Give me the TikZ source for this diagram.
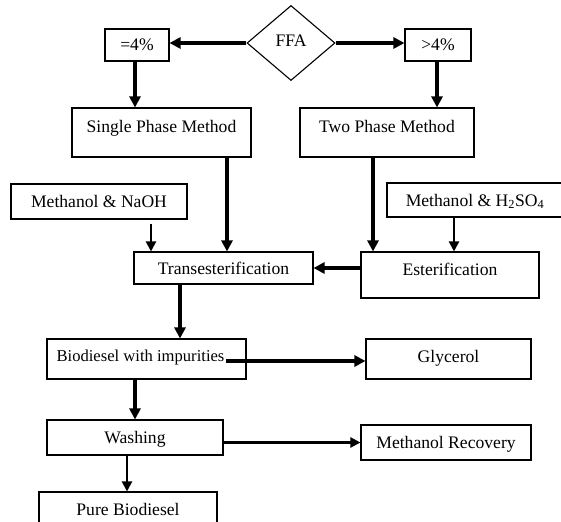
\documentclass[tikz,border=0pt]{standalone}
\usepackage{fontspec}
\setmainfont{Liberation Serif}
\usetikzlibrary{shapes.geometric,arrows.meta}
\begin{document}
\begin{tikzpicture}[x=1pt,y=-1pt,
  font=\fontsize{17.6}{20}\selectfont,
  box/.style={draw, line width=1.1pt, rectangle, inner sep=0pt, text height=12pt, text depth=0pt},
  thickarr/.style={line width=3.2pt, -{Triangle[length=11pt,width=11pt]}},
  thinarr/.style={line width=2.2pt, -{Triangle[length=10pt,width=10pt]}}]
\useasboundingbox (0,0) rectangle (561,521);
\clip (0,0) rectangle (561,521);
% nodes
\node[draw, diamond, line width=1.1pt, inner sep=0pt, minimum width=88pt, minimum height=75pt, text depth=5pt] (ffa) at (291,43) {FFA};
\node[box, minimum width=64pt, minimum height=32pt] (eq) at (137,45) {=4\%};
\node[box, minimum width=66pt, minimum height=32pt] (gt) at (438,45) {>4\%};
\node[box, minimum width=179pt, minimum height=49pt, text depth=11pt] (single) at (161.5,132.5) {Single Phase Method};
\node[box, minimum width=174pt, minimum height=49pt, text depth=11pt] (two) at (387,132.5) {Two Phase Method};
\node[box, minimum width=176pt, minimum height=35pt] (naoh) at (99,201.5) {Methanol \& NaOH};
\node[box, minimum width=176pt, minimum height=34pt] (hso) at (475,200) {Methanol \& H\textsubscript{2}SO\textsubscript{4}};
\node[box, minimum width=179pt, minimum height=32pt] (trans) at (223.5,268) {Transesterification};
\node[box, minimum width=178pt, minimum height=46pt, text depth=12pt] (ester) at (450,275) {Esterification};
\node[box, minimum width=199pt, minimum height=40pt, text depth=8pt, font=\fontsize{16.6}{19}\selectfont] (bio) at (146.5,359) {Biodiesel with impurities\hspace*{12pt}};
\node[box, minimum width=165pt, minimum height=40pt, text depth=6pt] (gly) at (448.5,359) {Glycerol};
\node[box, minimum width=176pt, minimum height=35pt] (wash) at (135,437.5) {Washing};
\node[box, minimum width=170pt, minimum height=35pt] (mr) at (446,442.5) {Methanol Recovery};
\node[box, minimum width=178pt, minimum height=38pt, text depth=4pt] (pure) at (128,511) {Pure Biodiesel};
% connector start points
\path ([xshift=-2pt]eq.south) coordinate (c1);
\path ([xshift=-1pt]gt.south) coordinate (c2);
\path ([xshift=65.5pt]single.south) coordinate (c3);
\path ([xshift=-14pt]two.south) coordinate (c4);
\path ([xshift=52pt,yshift=-4pt]naoh.south) coordinate (c5);
\path ([xshift=-21pt]hso.south) coordinate (c6);
\path ([xshift=-43.5pt]trans.south) coordinate (c7);
\path ([xshift=79.5pt,yshift=-2pt]bio.center) coordinate (c8);
\path ([xshift=-11.5pt]bio.south) coordinate (c9);
\path ([xshift=-8pt]wash.south) coordinate (c10);
% connectors
\draw[thickarr] (ffa.west) -- (eq.east |- ffa.west);
\draw[thickarr] (ffa.east) -- (gt.west |- ffa.east);
\draw[thickarr] (c1) -- (c1 |- single.north);
\draw[thickarr] (c2) -- (c2 |- two.north);
\draw[thickarr] (c3) -- (c3 |- trans.north);
\draw[thickarr] (c4) -- (c4 |- ester.north);
\draw[thinarr] (c5) -- (c5 |- trans.north);
\draw[thinarr] (c6) -- (c6 |- ester.north);
\draw[thickarr] (trans.east -| ester.west) -- (trans.east);
\draw[thickarr] (c7) -- (c7 |- bio.north);
\draw[thickarr] (c8) -- (c8 -| gly.west);
\draw[thickarr] (c9) -- (c9 |- wash.north);
\draw[thinarr] (wash.east |- mr.west) -- (mr.west);
\draw[thinarr] (c10) -- (c10 |- pure.north);
\end{tikzpicture}
\end{document}
